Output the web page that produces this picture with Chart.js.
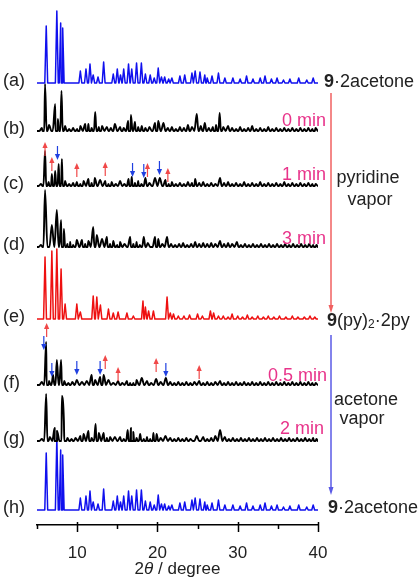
<!DOCTYPE html>
<html>
<head>
<meta charset="utf-8">
<script src="https://cdn.jsdelivr.net/npm/chart.js@4.4.0/dist/chart.umd.min.js"></script>
<style>
html, body { margin: 0; padding: 0; background: #fff; }
#wrap { width: 418px; height: 577px; }
</style>
</head>
<body>
<div id="wrap"><canvas id="xrd"></canvas></div>
<script>
// peak lists [2theta, height]
const peaksAcetone = [[6.15,57],[7.47,72],[7.95,60],[8.2,55],[10.4,12],[11.1,14],[11.6,19],[12.0,8],[12.6,6],[13.3,21],[14.5,9],[15.0,14],[15.4,8],[15.8,14],[16.4,19],[16.8,14],[17.4,20],[18.0,20],[18.5,9],[19.1,8],[19.6,5],[20.1,15],[20.5,6],[20.9,6],[21.4,4],[21.8,5],[22.8,7],[23.4,8],[24.3,10],[24.7,12],[25.3,11],[25.9,8],[26.2,5],[26.8,7],[27.6,10],[28.4,5],[29.4,5],[30.3,4],[31.1,7],[31.9,4],[32.8,5],[33.4,7],[34.2,4],[34.9,5],[35.7,3],[36.5,4],[37.6,5],[38.6,3],[39.4,5]];
const peaks0min = [[5.6,3],[6.0,47],[6.5,6],[7.26,27],[7.6,12],[8.05,40],[8.5,5],[9.0,2],[9.5,3],[10.0,2],[10.4,5],[11.0,7],[11.4,7],[11.8,3],[12.25,19],[12.7,4],[13.1,5],[13.7,4],[14.2,3],[14.7,7],[15.35,4],[15.8,3],[16.35,10],[16.7,16],[17.2,9],[17.6,4],[18.05,5],[18.5,3],[19.0,4],[19.7,8],[20.1,10],[20.75,8],[21.3,3],[21.8,4],[22.3,2],[22.8,4],[23.3,3],[23.8,6],[24.3,4],[24.9,17],[25.4,5],[25.9,8],[26.4,3],[26.9,4],[27.3,6],[27.75,18],[28.2,4],[28.8,5],[29.3,3],[29.8,2],[30.3,4],[30.8,2],[31.3,3],[31.8,5],[32.3,2],[32.8,3],[33.3,2],[33.8,4],[34.3,2],[34.8,3],[35.3,2],[35.8,3],[36.3,2],[36.8,3],[37.3,2],[37.8,3],[38.3,2],[38.8,3],[39.3,2],[39.7,3]];
const peaks1min = [[5.5,2],[6.0,35],[6.45,4],[6.85,12],[7.26,15],[7.7,22],[8.1,27],[8.5,5],[9.0,2],[9.5,3],[9.96,4],[10.4,2],[10.8,5],[11.4,7],[11.8,3],[12.2,8],[12.86,6],[13.5,5],[13.9,2],[14.3,4],[14.8,2],[15.35,5],[15.9,2],[16.4,7],[16.8,9],[17.2,3],[17.6,5],[18.0,2],[18.5,8],[19.0,3],[19.7,8],[20.3,8],[21.0,6],[21.4,2],[21.8,4],[22.3,2],[22.8,3],[23.3,2],[23.8,4],[24.3,3],[24.7,7],[25.2,3],[25.7,4],[26.2,2],[26.7,3],[27.2,2],[27.8,8],[28.3,3],[28.8,4],[29.3,2],[29.8,3],[30.3,2],[30.8,4],[31.3,2],[31.8,3],[32.3,2],[32.8,4],[33.3,2],[33.8,3],[34.3,2],[34.8,3],[35.3,2],[35.8,4],[36.3,2],[36.8,3],[37.3,2],[37.8,3],[38.3,2],[38.8,3],[39.3,2],[39.7,2]];
const peaks3min = [[5.5,2],[6.0,57],[6.85,22],[7.47,37],[8.0,27],[8.35,18],[8.8,3],[9.13,5],[9.5,2],[9.96,7],[10.6,7],[11.0,3],[11.4,6],[12.0,20],[12.45,12],[13.1,8],[13.7,10],[14.1,3],[14.5,6],[15.0,2],[15.35,5],[15.9,3],[16.6,10],[17.0,3],[17.4,5],[17.8,2],[18.3,10],[18.8,4],[19.7,10],[20.1,8],[20.6,3],[21.2,10],[21.7,3],[22.2,2],[22.7,3],[23.2,4],[23.7,2],[24.2,3],[24.7,5],[25.2,3],[25.7,4],[26.2,3],[26.7,4],[27.2,3],[27.8,6],[28.3,3],[28.8,4],[29.3,3],[29.9,5],[30.4,2],[30.9,3],[31.4,2],[31.9,3],[32.4,2],[32.9,3],[33.4,2],[33.9,3],[34.4,2],[34.9,3],[35.4,2],[35.9,3],[36.4,2],[36.9,3],[37.4,2],[37.9,3],[38.4,2],[38.9,3],[39.4,2],[39.8,2]];
const peaksPy = [[6.0,62],[6.85,68],[7.47,70],[8.0,50],[8.5,15],[9.96,15],[10.4,7],[12.0,23],[12.45,22],[12.9,14],[13.9,10],[14.5,6],[15.1,7],[16.2,6],[17.0,3],[18.2,18],[18.5,12],[18.9,8],[19.5,8],[21.2,22],[21.6,6],[22.0,5],[22.6,3],[23.3,3],[24.0,4],[25.0,5],[25.6,3],[26.6,8],[27.0,6],[27.6,3],[28.2,3],[28.8,2],[29.3,5],[30.0,3],[30.6,2],[31.2,4],[31.8,2],[32.5,3],[33.2,2],[33.8,3],[34.5,2],[35.2,3],[36.0,2],[36.8,3],[37.5,2],[38.3,2],[39.0,3],[39.6,2]];
const peaks05min = [[5.6,3],[6.14,43],[6.5,4],[7.0,10],[7.47,25],[8.0,25],[8.4,4],[8.9,2],[9.4,3],[9.96,5],[10.6,3],[11.2,4],[11.8,10],[12.24,5],[12.86,8],[13.3,10],[13.9,5],[14.5,2],[15.1,4],[15.6,2],[16.2,4],[16.6,2],[17.0,2],[17.4,5],[18.05,7],[18.7,4],[19.2,2],[19.84,6],[20.4,3],[21.05,7],[21.6,3],[22.1,2],[22.6,3],[23.1,2],[23.6,3],[24.1,2],[24.6,3],[25.2,4],[25.7,2],[26.2,3],[26.7,2],[27.2,3],[27.8,4],[28.3,2],[28.8,3],[29.3,2],[29.8,3],[30.3,2],[30.8,3],[31.3,2],[31.8,3],[32.3,2],[32.8,3],[33.3,2],[33.8,3],[34.3,2],[34.8,3],[35.3,2],[35.8,3],[36.3,2],[36.8,3],[37.3,2],[37.8,3],[38.3,2],[38.8,3],[39.3,2],[39.7,2]];
const peaks2min = [[5.6,2],[6.14,47],[6.6,4],[7.2,13],[7.5,10],[8.1,45],[8.35,20],[8.8,3],[9.3,2],[9.8,3],[10.4,5],[10.8,7],[11.4,10],[11.8,3],[12.3,17],[12.7,8],[13.3,8],[13.7,3],[14.1,4],[14.7,4],[15.35,4],[15.8,2],[16.3,11],[16.7,13],[17.0,9],[17.4,3],[17.85,7],[18.3,2],[18.7,4],[19.1,2],[19.5,8],[19.9,7],[20.4,3],[21.0,5],[21.6,3],[22.1,2],[22.6,3],[23.1,2],[23.6,3],[24.1,2],[24.9,5],[25.7,4],[26.2,2],[26.7,3],[27.2,5],[27.8,11],[28.4,4],[28.9,2],[29.4,3],[29.9,2],[30.4,3],[30.9,2],[31.4,3],[31.9,2],[32.4,3],[32.9,2],[33.4,3],[33.9,2],[34.4,3],[34.9,2],[35.4,3],[35.9,2],[36.4,3],[36.9,2],[37.4,3],[37.9,2],[38.4,3],[38.9,2],[39.4,3],[39.8,2]];

const tracePeaks = [peaksAcetone, peaks0min, peaks1min, peaks3min, peaksPy, peaks05min, peaks2min, peaksAcetone];
const traceLabels = ['(a)', '(b)', '(c)', '(d)', '(e)', '(f)', '(g)', '(h)'];
const xTicks = [10, 20, 30, 40];

// arrows marking peak shifts [2theta, level above the trace baseline]
const upArrowsC = [[6.0, 44], [6.85, 29], [9.96, 23], [13.5, 24], [18.76, 23], [21.3, 18]];
const downArrowsC = [[7.55, 26], [16.9, 9], [18.3, 8], [20.25, 11]];
const upArrowsF = [[6.2, 62], [13.5, 30], [15.1, 18], [19.84, 27], [25.2, 20]];
const downArrowsF = [[5.85, 35], [6.85, 8], [9.96, 10], [12.86, 10], [21.05, 8]];

// layout / style
const offsets = [442, 394, 339, 278, 206, 140, 84, 15];
const colors = ['#1010ee', '#000', '#000', '#000', '#ee1010', '#000', '#000', '#1010ee'];
const halfWidths = [0.18, 0.3, 0.3, 0.3, 0.18, 0.3, 0.3, 0.18];
const lineWidths = [1.5, 1.9, 1.9, 1.9, 1.5, 1.9, 1.9, 1.5];
const FONT = '"Liberation Sans", Arial, sans-serif';
const PINK = '#e8338a';

function buildTrace(peaks, offset, hw) {
    let pts = [{x: 5, y: offset}, {x: 40, y: offset}];
    for (const [pos, h] of peaks) {
        pts.push({x: pos - hw, y: offset});
        pts.push({x: pos, y: offset + h});
        pts.push({x: pos + hw, y: offset});
    }
    pts.sort((p, q) => p.x - q.x);
    return pts;
}

let datasets = [];
for (let i = 0; i < tracePeaks.length; i++) {
    const sharp = colors[i] !== '#000';
    datasets.push({
        label: traceLabels[i],
        data: buildTrace(tracePeaks[i], offsets[i], halfWidths[i]),
        borderColor: colors[i],
        borderWidth: lineWidths[i],
        borderJoinStyle: 'round',
        pointRadius: 0,
        cubicInterpolationMode: sharp ? 'default' : 'monotone',
        tension: sharp ? 0 : 0.4
    });
}

function drawParts(ctx, parts, x, y, align) {
    let total = 0;
    for (const p of parts) { ctx.font = p[1]; total += ctx.measureText(p[0]).width; }
    if (align === 'center') x -= total / 2;
    if (align === 'right') x -= total;
    ctx.textAlign = 'left';
    for (const p of parts) {
        ctx.font = p[1];
        ctx.fillText(p[0], x, y + (p[2] || 0));
        x += ctx.measureText(p[0]).width;
    }
}

function arrow(ctx, x, tipY, dir, color) {
    const len = 14;
    ctx.strokeStyle = color;
    ctx.fillStyle = color;
    ctx.lineWidth = 1.2;
    ctx.beginPath();
    ctx.moveTo(x, tipY + dir * len);
    ctx.lineTo(x, tipY + dir * 4);
    ctx.stroke();
    ctx.beginPath();
    ctx.moveTo(x, tipY);
    ctx.lineTo(x - 2.6, tipY + dir * 6);
    ctx.lineTo(x + 2.6, tipY + dir * 6);
    ctx.closePath();
    ctx.fill();
}

const decor = {
    id: 'decor',
    afterDatasetsDraw(chart) {
        const ctx = chart.ctx;
        const xs = chart.scales.x, ys = chart.scales.y;
        ctx.save();
        // shift arrows
        const sets = [[upArrowsC, offsets[2], 1, '#f04848'], [downArrowsC, offsets[2], -1, '#2040e0'],
                      [upArrowsF, offsets[5], 1, '#f04848'], [downArrowsF, offsets[5], -1, '#2040e0']];
        for (const [list, off, dir, col] of sets) {
            for (const [pos, lvl] of list) {
                arrow(ctx, xs.getPixelForValue(pos), ys.getPixelForValue(off + lvl), dir, col);
            }
        }
        // axis ticks
        const bottom = chart.chartArea.bottom;
        ctx.strokeStyle = '#000';
        ctx.lineWidth = 1.5;
        for (let v = 5; v <= 40; v += 5) {
            const x = Math.round(xs.getPixelForValue(v)) + 0.5;
            const major = v % 10 === 0;
            ctx.beginPath();
            ctx.moveTo(x, major ? bottom - 3 : bottom);
            ctx.lineTo(x, major ? bottom + 7 : bottom + 4);
            ctx.stroke();
        }
        // trace labels
        ctx.fillStyle = '#222';
        ctx.textBaseline = 'middle';
        ctx.font = '18px ' + FONT;
        for (let i = 0; i < traceLabels.length; i++) {
            ctx.textAlign = 'left';
            ctx.fillText(traceLabels[i], 3, ys.getPixelForValue(offsets[i] + 2));
        }
        // right side notes
        ctx.textBaseline = 'alphabetic';
        const N = '18px ' + FONT, B = 'bold 18px ' + FONT, S = '12px ' + FONT;
        ctx.fillStyle = '#222';
        drawParts(ctx, [['9', B], ['\u00b72acetone', N]], 324, 87, 'left');
        drawParts(ctx, [['9', B], ['(py)', N], ['2', S, 2], ['\u00b72py', N]], 327, 326, 'left');
        drawParts(ctx, [['9', B], ['\u00b72acetone', N]], 328, 513, 'left');
        drawParts(ctx, [['pyridine', N]], 368, 183, 'center');
        drawParts(ctx, [['vapor', N]], 370, 205, 'center');
        drawParts(ctx, [['acetone', N]], 366, 405, 'center');
        drawParts(ctx, [['vapor', N]], 362, 424, 'center');
        ctx.fillStyle = PINK;
        drawParts(ctx, [['0 min', N]], 326, 126, 'right');
        drawParts(ctx, [['1 min', N]], 326, 180, 'right');
        drawParts(ctx, [['3 min', N]], 326, 244, 'right');
        drawParts(ctx, [['0.5 min', N]], 327, 381, 'right');
        drawParts(ctx, [['2 min', N]], 324, 434, 'right');
        // process arrows
        ctx.lineWidth = 1.5;
        ctx.strokeStyle = '#f06060';
        ctx.fillStyle = '#f06060';
        ctx.beginPath(); ctx.moveTo(331, 93); ctx.lineTo(331, 306); ctx.stroke();
        ctx.beginPath(); ctx.moveTo(331, 313); ctx.lineTo(328.5, 305); ctx.lineTo(333.5, 305); ctx.closePath(); ctx.fill();
        ctx.strokeStyle = '#5a5ae6';
        ctx.fillStyle = '#5a5ae6';
        ctx.beginPath(); ctx.moveTo(331, 335); ctx.lineTo(331, 488); ctx.stroke();
        ctx.beginPath(); ctx.moveTo(331, 495); ctx.lineTo(328.5, 487); ctx.lineTo(333.5, 487); ctx.closePath(); ctx.fill();
        // axis title
        ctx.fillStyle = '#222';
        const mid = (chart.chartArea.left + chart.chartArea.right) / 2;
        drawParts(ctx, [['2', '17px ' + FONT], ['\u03b8', 'italic 17px ' + FONT], [' / degree', '17px ' + FONT]], mid, 574, 'center');
        ctx.restore();
    }
};

new Chart(document.getElementById('xrd'), {
    type: 'line',
    data: { datasets: datasets },
    options: {
        responsive: true,
        maintainAspectRatio: false,
        animation: false,
        layout: { padding: { left: 37, right: 100, top: 0, bottom: 0 } },
        plugins: { legend: { display: false }, tooltip: { enabled: false } },
        scales: {
            x: {
                type: 'linear',
                min: 5,
                max: 40,
                afterBuildTicks: s => { s.ticks = xTicks.map(v => ({ value: v })); },
                afterFit: s => { s.height = 52; },
                grid: { display: false },
                border: { display: true, color: '#000', width: 1.5 },
                ticks: { color: '#222', font: { size: 17, family: FONT }, padding: 10, maxRotation: 0 }
            },
            y: { display: false, min: 0, max: 525 }
        }
    },
    plugins: [decor]
});
</script>
</body>
</html>
